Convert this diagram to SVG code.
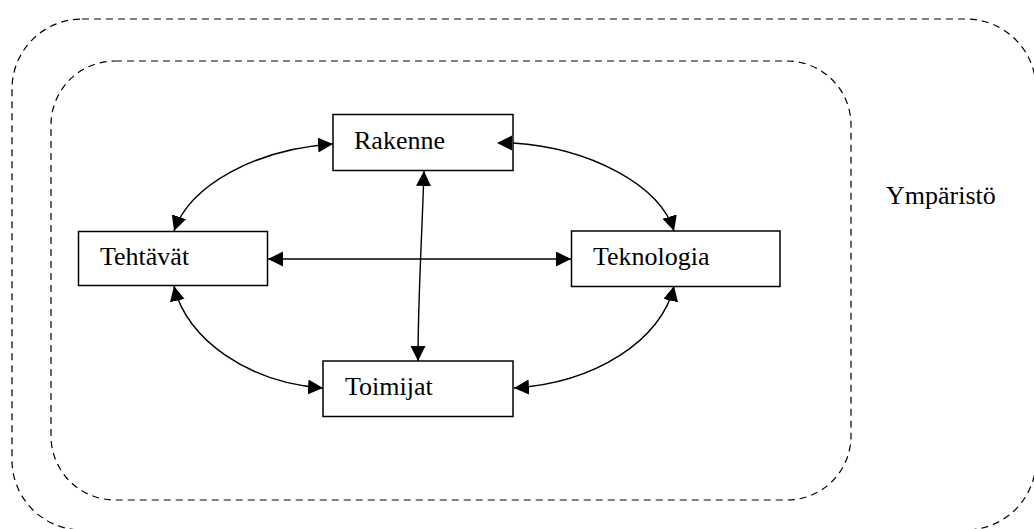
<svg xmlns="http://www.w3.org/2000/svg" width="1034" height="529" viewBox="0 0 1034 529">
  <style>
    .bg { fill: #ffffff; }
    .zone { fill: none; stroke: #000; stroke-width: 1.2; stroke-dasharray: 7 5; }
    .box { fill: #ffffff; stroke: #000; stroke-width: 1.5; }
    .lbl { font-family: "Liberation Serif", "Times New Roman", serif; font-size: 26px; fill: #000; }
    .conn { fill: none; stroke: #000; stroke-width: 1.4; marker-start: url(#arr); marker-end: url(#arr); }
  </style>
  <defs>
    <marker id="arr" markerUnits="userSpaceOnUse" markerWidth="17" markerHeight="16" refX="15" refY="7.5" orient="auto-start-reverse">
      <path d="M0,0 L15,7.5 L0,15 z" fill="#000"/>
    </marker>
  </defs>
  <rect class="bg" x="0" y="0" width="1034" height="529"/>

  <g id="environment">
    <rect class="zone" x="12" y="19" width="1024" height="511" rx="70" ry="70"/>
    <rect class="zone" x="51" y="61" width="800" height="439" rx="64" ry="64"/>
    <text class="lbl" x="886" y="204">Ympäristö</text>
  </g>

  <g id="connectors">
    <path class="conn" d="M174,231 C190,185 256,149 333,144"/>
    <path class="conn" d="M497,143 L513,143 C590,148 660,185 674,231"/>
    <path class="conn" d="M268,259 L571,259"/>
    <path class="conn" d="M424,171 C421,260 418,300 418,361"/>
    <path class="conn" d="M174,286 C186,340 250,383 323,388"/>
    <path class="conn" d="M674,286 C662,340 595,383 514,388"/>
  </g>

  <g id="node-rakenne">
    <rect class="box" x="333" y="114.5" width="180" height="56"/>
    <text class="lbl" x="354" y="149">Rakenne</text>
  </g>
  <g id="node-tehtavat">
    <rect class="box" x="78.5" y="231.5" width="189" height="54"/>
    <text class="lbl" x="100" y="265">Tehtävät</text>
  </g>
  <g id="node-teknologia">
    <rect class="box" x="571.5" y="231" width="208.5" height="55.5"/>
    <text class="lbl" x="593" y="265">Teknologia</text>
  </g>
  <g id="node-toimijat">
    <rect class="box" x="323" y="361" width="190" height="55.5"/>
    <text class="lbl" x="345" y="395">Toimijat</text>
  </g>
  <!-- arrowhead that sits inside Rakenne box on its right side -->
  <g id="overlay">
    <path d="M497,143 L512,135.5 L512,150.5 z" fill="#000"/>
  </g>
</svg>
